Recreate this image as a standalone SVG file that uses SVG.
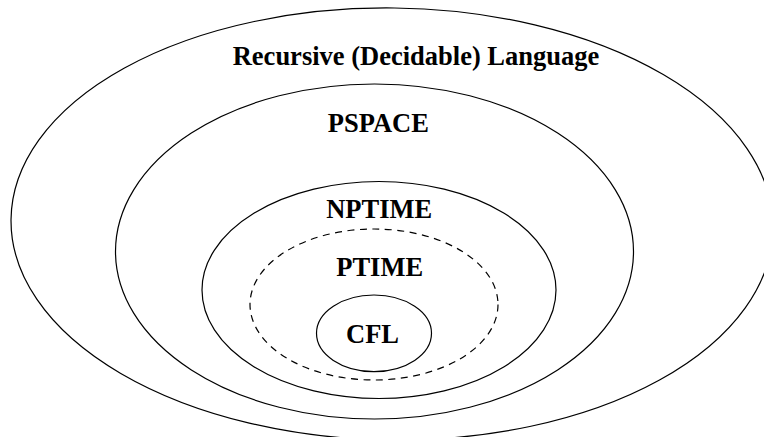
<svg xmlns="http://www.w3.org/2000/svg" width="764" height="437" viewBox="0 0 764 437">
<style>
.e{fill:none;stroke:#000;stroke-width:1.2}
.d{stroke-dasharray:7 5.5}
.t{font-family:"Liberation Serif","Times New Roman",serif;font-weight:bold;font-size:26.5px;text-anchor:middle;fill:#000}
</style>
<rect width="764" height="437" fill="#fff"/>
<g id="recursive">
<ellipse class="e" cx="392" cy="224" rx="381" ry="216" transform="rotate(0.7 392 224)"/>
<text class="t" x="416" y="65">Recursive (Decidable) Language</text>
</g>
<g id="pspace">
<ellipse class="e" cx="374.5" cy="251.5" rx="259" ry="167.5"/>
<text class="t" x="378.3" y="131.7">PSPACE</text>
</g>
<g id="nptime">
<ellipse class="e" cx="379" cy="290" rx="177" ry="108.5"/>
<text class="t" x="379.2" y="218.3">NPTIME</text>
</g>
<g id="ptime">
<ellipse class="e d" cx="374" cy="304.5" rx="124" ry="75.5"/>
<text class="t" x="379.7" y="276">PTIME</text>
</g>
<g id="cfl">
<ellipse class="e" cx="374" cy="333.3" rx="57.5" ry="38.3"/>
<text class="t" x="372.5" y="343.3">CFL</text>
</g>
<g id="connectors"></g>
</svg>
